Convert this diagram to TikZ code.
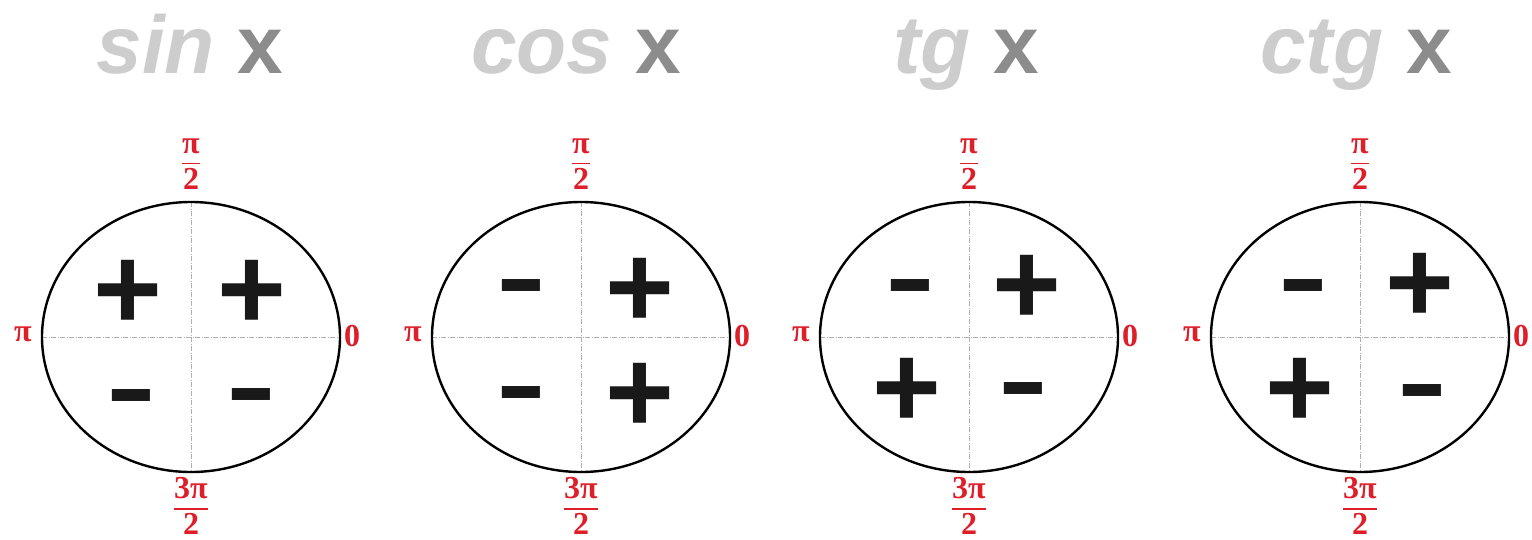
\documentclass[tikz,border=0pt]{standalone}
\usepackage{fontspec}
\usepackage{amsmath}
\usepackage{graphicx}
\setmainfont{Liberation Serif}
\newfontfamily\titlefont{Liberation Sans}
\usetikzlibrary{shapes.geometric}
\definecolor{lblred}{RGB}{222,30,40}
\definecolor{ttllight}{RGB}{205,205,205}
\definecolor{ttldark}{RGB}{140,140,140}
\definecolor{axisgray}{RGB}{175,175,175}
\newcommand{\myfrac}[2]{\fontsize{32}{34}\selectfont\bfseries$\genfrac{}{}{1.3pt}{0}{\text{#1}}{\text{#2}}$}
\newcommand{\myminus}{\scalebox{1.27}[0.85]{-}}
\tikzset{
  unitcirc/.style={ellipse, draw=black, line width=2.4pt, inner sep=0pt, minimum width=298pt, minimum height=270pt},
  axisline/.style={draw=axisgray, line width=0.8pt, dash pattern=on 5pt off 1.5pt on 1pt off 1.5pt},
  ttl/.style={anchor=base, inner sep=0pt, font=\titlefont\fontsize{82}{84}\selectfont\bfseries},
  signtxt/.style={inner sep=0pt, font=\titlefont\fontsize{118}{118}\selectfont\bfseries, text=black!90},
  lbl/.style={inner sep=0pt, text=lblred, font=\fontsize{32}{34}\selectfont\bfseries},
  fraclbl/.style={inner sep=0pt, text=lblred}
}
\begin{document}
\begin{tikzpicture}[x=1pt,y=-1pt]
\useasboundingbox[fill=white] (0,0) rectangle (1532,539);
% titles
\node[ttl] (t1) at (190,73) {\textcolor{ttllight}{\itshape sin} \textcolor{ttldark}{x}};
\node[ttl] (t2) at (576,73) {\textcolor{ttllight}{\itshape cos} \textcolor{ttldark}{x}};
\node[ttl] (t3) at (966,73) {\textcolor{ttllight}{\itshape tg} \textcolor{ttldark}{x}};
\node[ttl] (t4) at (1356,73) {\textcolor{ttllight}{\itshape ctg} \textcolor{ttldark}{x}};
% circles with axes and labels
\foreach \i/\cx in {1/191,2/581,3/969,4/1360}{
  \draw[axisline] (\cx-149,337) -- (\cx+149,337);
  \draw[axisline] (\cx,202) -- (\cx,472);
  \node[unitcirc] (c\i) at (\cx,337) {};
  \node[lbl] (pi\i) at (\cx-168,334) {π};
  \node[lbl] (z\i) at (\cx+161,336) {0};
  \node[fraclbl] (top\i) at (\cx,164) {\myfrac{π}{2}};
  \node[fraclbl] (bot\i) at (\cx,506) {\myfrac{3π}{2}};
}
% signs: sin
\node[signtxt] (s11) at (128,295) {+};
\node[signtxt] (s12) at (252,295) {+};
\node[signtxt] (s13) at (131,406) {\myminus};
\node[signtxt] (s14) at (251,405) {\myminus};
% cos
\node[signtxt] (s21) at (521,296) {\myminus};
\node[signtxt] (s22) at (640,293) {+};
\node[signtxt] (s23) at (521,403) {\myminus};
\node[signtxt] (s24) at (640,398) {+};
% tg
\node[signtxt] (s31) at (910,296) {\myminus};
\node[signtxt] (s32) at (1027,290) {+};
\node[signtxt] (s33) at (907,393) {+};
\node[signtxt] (s34) at (1023,399) {\myminus};
% ctg
\node[signtxt] (s41) at (1303,296) {\myminus};
\node[signtxt] (s42) at (1420,288) {+};
\node[signtxt] (s43) at (1300,393) {+};
\node[signtxt] (s44) at (1422,401) {\myminus};
\end{tikzpicture}
\end{document}
